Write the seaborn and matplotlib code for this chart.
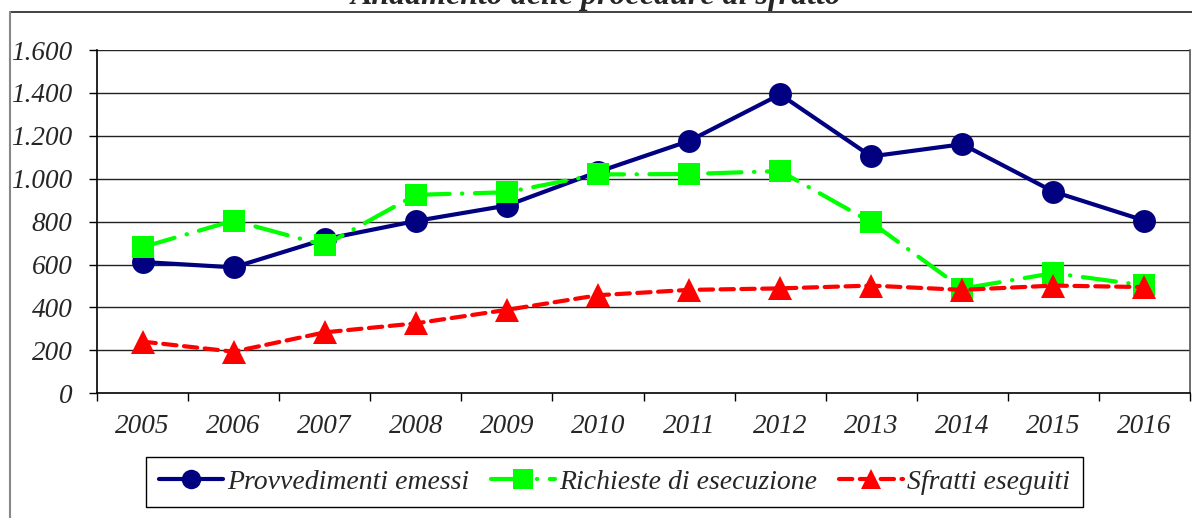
import matplotlib
matplotlib.use("Agg")
import matplotlib.pyplot as plt
from matplotlib.lines import Line2D
from matplotlib.ticker import FixedLocator
import seaborn as sns
import pandas as pd

years = [2005, 2006, 2007, 2008, 2009, 2010, 2011, 2012, 2013, 2014, 2015, 2016]
provvedimenti = [612, 587, 718, 803, 875, 1032, 1176, 1393, 1104, 1161, 940, 805]
richieste = [681, 805, 690, 925, 937, 1020, 1022, 1036, 797, 488, 560, 503]
sfratti = [241, 194, 284, 326, 389, 457, 482, 489, 502, 482, 502, 495]
series_names = ["Provvedimenti emessi", "Richieste di esecuzione", "Sfratti eseguiti"]
yticks = [0, 200, 400, 600, 800, 1000, 1200, 1400, 1600]
ytick_labels = ["0", "200", "400", "600", "800", "1.000", "1.200", "1.400", "1.600"]
title = "Andamento delle procedure di sfratto"

sns.set_theme(style="white")
plt.rcParams["font.family"] = ["Liberation Serif", "DejaVu Serif"]

W, H = 1192, 518
fig = plt.figure(figsize=(W / 100, H / 100), dpi=100)
ax = fig.add_axes([97 / W, 1 - 393.3 / H, (1190 - 97) / W, (393.3 - 50) / H])

styles = [
    dict(color="#000080", marker="o", markersize=16.5, linestyle="-"),
    dict(color="#00FF00", marker="s", markersize=16.5, linestyle=(0, (8, 3, 0.1, 3))),
    dict(color="#FF0000", marker="^", markersize=17, linestyle=(0, (3.2, 1.8))),
]
for name, vals, st in zip(series_names, [provvedimenti, richieste, sfratti], styles):
    df = pd.DataFrame({"anno": years, "valore": vals})
    sns.lineplot(data=df, x="anno", y="valore", ax=ax, label=name,
                 color=st["color"], marker=st["marker"], markersize=st["markersize"],
                 markeredgewidth=0, linewidth=3.0, linestyle=st["linestyle"],
                 dash_capstyle="round", solid_capstyle="round", legend=False)

ax.set_xlim(years[0] - 0.5, years[-1] + 0.5)
ax.set_ylim(yticks[0], yticks[-1])
ax.set_xlabel("")
ax.set_ylabel("")

# gridlines
for v in yticks[1:]:
    ax.axhline(v, color="#222222", linewidth=1.0, zorder=0.5)

ax.yaxis.set_major_locator(FixedLocator(yticks))
ax.set_yticklabels(ytick_labels, fontsize=19.5, fontstyle="italic")
ax.tick_params(axis="y", which="major", direction="out", length=5.5, width=1, color="black", pad=12, left=True)

ax.xaxis.set_major_locator(FixedLocator(years))
ax.set_xticklabels([str(y) for y in years], fontsize=19.5, fontstyle="italic")
ax.xaxis.set_minor_locator(FixedLocator([y - 0.5 for y in years] + [years[-1] + 0.5]))
ax.tick_params(axis="x", which="major", length=0, pad=15)
ax.tick_params(axis="x", which="minor", direction="out", length=5.5, width=1, color="black", bottom=True)

for s in ["left", "bottom"]:
    ax.spines[s].set_color("black")
    ax.spines[s].set_linewidth(1.2)
ax.spines["top"].set_visible(False)
ax.spines["right"].set_color("#555555")
ax.spines["right"].set_linewidth(1.2)

# legend
handles = [Line2D([0], [0], color=st["color"], marker=st["marker"], markersize=st["markersize"] * 0.85,
                  markeredgewidth=0, linewidth=3.0, linestyle=st["linestyle"], dash_capstyle="round")
           for st in styles]
leg = fig.legend(handles, series_names, loc="center", bbox_to_anchor=(614.5 / W, 1 - 482 / H),
                 ncol=3, frameon=True, fancybox=False, framealpha=1, edgecolor="black",
                 prop=dict(family="Liberation Serif", style="italic", size=20),
                 handlelength=2.3, handletextpad=0.15, columnspacing=0.8, borderpad=0.45)
leg.get_frame().set_linewidth(1.0)

# outer chart frame
fig.add_artist(Line2D([10 / W, 1.0], [1 - 12 / H, 1 - 12 / H], transform=fig.transFigure, color="#222222", linewidth=1.2))
fig.add_artist(Line2D([10 / W, 10 / W], [1 - 12 / H, 0.0], transform=fig.transFigure, color="#888888", linewidth=1.5))

fig.text(0.5, 1 - 4 / H, title, ha="center", va="baseline", fontsize=23,
         fontweight="bold", fontstyle="italic", family="Liberation Serif")

fig.savefig("out.png", dpi=100, facecolor="white")
